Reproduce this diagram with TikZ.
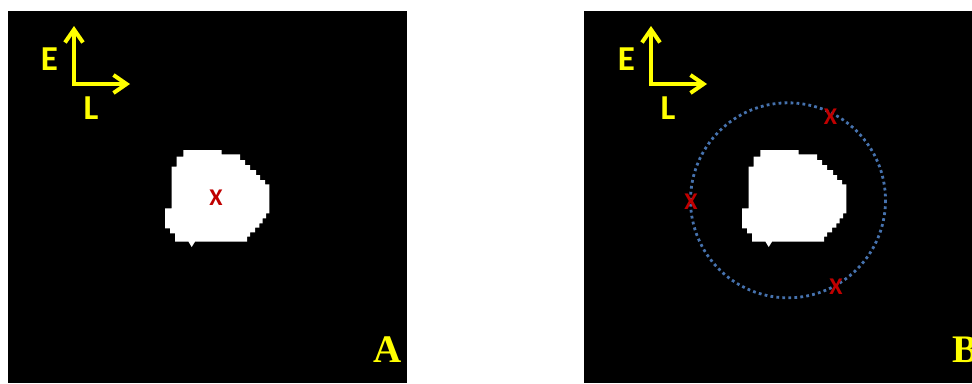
\documentclass[tikz,border=0pt]{standalone}
\usepackage{fontspec}
\setmainfont{Carlito}
\newfontfamily\panelfont{Liberation Serif}
\usetikzlibrary{
  arrows.meta % For arrow tips
}
\definecolor{axisyellow}{HTML}{FFFF00}
\definecolor{markred}{HTML}{C00000}
\definecolor{ringblue}{HTML}{4672AE}

\begin{document}
\begin{tikzpicture}[
      x=1pt, y=-1pt, % pixel coordinates, y downwards
      axis/.style={axisyellow, line width=4pt,
        {Straight Barb[length=13pt, width=18pt]}-{Straight Barb[length=13pt, width=18pt]}},
      dirlabel/.style={axisyellow, inner sep=0pt, font=\fontsize{35}{35}\selectfont\bfseries},
      xmark/.style={markred, inner sep=0pt, font=\fontsize{24}{24}\selectfont\bfseries},
      panellabel/.style={axisyellow, inner sep=0pt, font=\panelfont\fontsize{39}{39}\selectfont\bfseries},
      ring/.style={ringblue, line width=2.8pt, dash pattern=on 2.8pt off 3.2pt},
    ]

    % Hintergrund
    \fill[white] (0,0) rectangle (972,383);
    \useasboundingbox (0,0) rectangle (972,383);

    % Umriss des Objekts (linkes Bild)
    \def\blobpath{(183.3,150) -- (221.7,150) -- (221.7,154.3) -- (240,154.3)
      -- (240,160) -- (245,160) -- (245,165) -- (250,165) -- (250,170)
      -- (256,170) -- (256,175) -- (260,175) -- (260,180) -- (265,180)
      -- (265,184.3) -- (269.3,184.3) -- (269.3,213.3) -- (266,213.3)
      -- (266,218.3) -- (262.7,218.3) -- (262.7,223.3) -- (259.3,223.3)
      -- (259.3,227.7) -- (255,227.7) -- (255,232.3) -- (250,232.3)
      -- (250,236.7) -- (247,236.7) -- (247,241.7) -- (195,241.7)
      -- (191.7,247) -- (188.5,241.7) -- (175,241.7) -- (175,233.3)
      -- (170,233.3) -- (170,228.3) -- (165,228.3) -- (165,208.3)
      -- (171.7,208.3) -- (171.7,166.7) -- (176.7,166.7) -- (176.7,156.7)
      -- (183.3,156.7) -- cycle}

    % Bilder A und B
    \fill[black] (8,11) rectangle (407,383);
    \fill[black] (584,11) rectangle (972,383);

    \foreach \dx/\p in {0/A, 577/B} {
      \begin{scope}[shift={(\dx,0)}]
        \fill[white] \blobpath;
        % Richtungen E und L
        \coordinate (orig\p) at (74,84);
        \coordinate (tipE\p) at (74,26);
        \coordinate (tipL\p) at (130,84);
        \draw[axis] (tipE\p) -- (orig\p) -- (tipL\p);
        \node[dirlabel] (E\p) at (49.5,59.5) {E};
        \node[dirlabel] (L\p) at (91,108.5) {L};
      \end{scope}
    }

    % Mittelpunkt im Bild A
    \node[xmark] (xA) at (216,198) {X};

    % Kreis um das Objekt im Bild B
    \coordinate (ringc) at (788,200.3);
    \draw[ring] (ringc) circle[radius=97.5];
    \node[xmark] (xtop) at (830.5,116.5) {X};
    \node[xmark] (xleft) at (691,201.5) {X};
    \node[xmark] (xbottom) at (836,286.5) {X};

    % Bildbezeichnungen
    \node[panellabel] (labA) at (388,350) {A};
    \node[panellabel] (labB) at (965,350) {B};

  \end{tikzpicture}
\end{document}
